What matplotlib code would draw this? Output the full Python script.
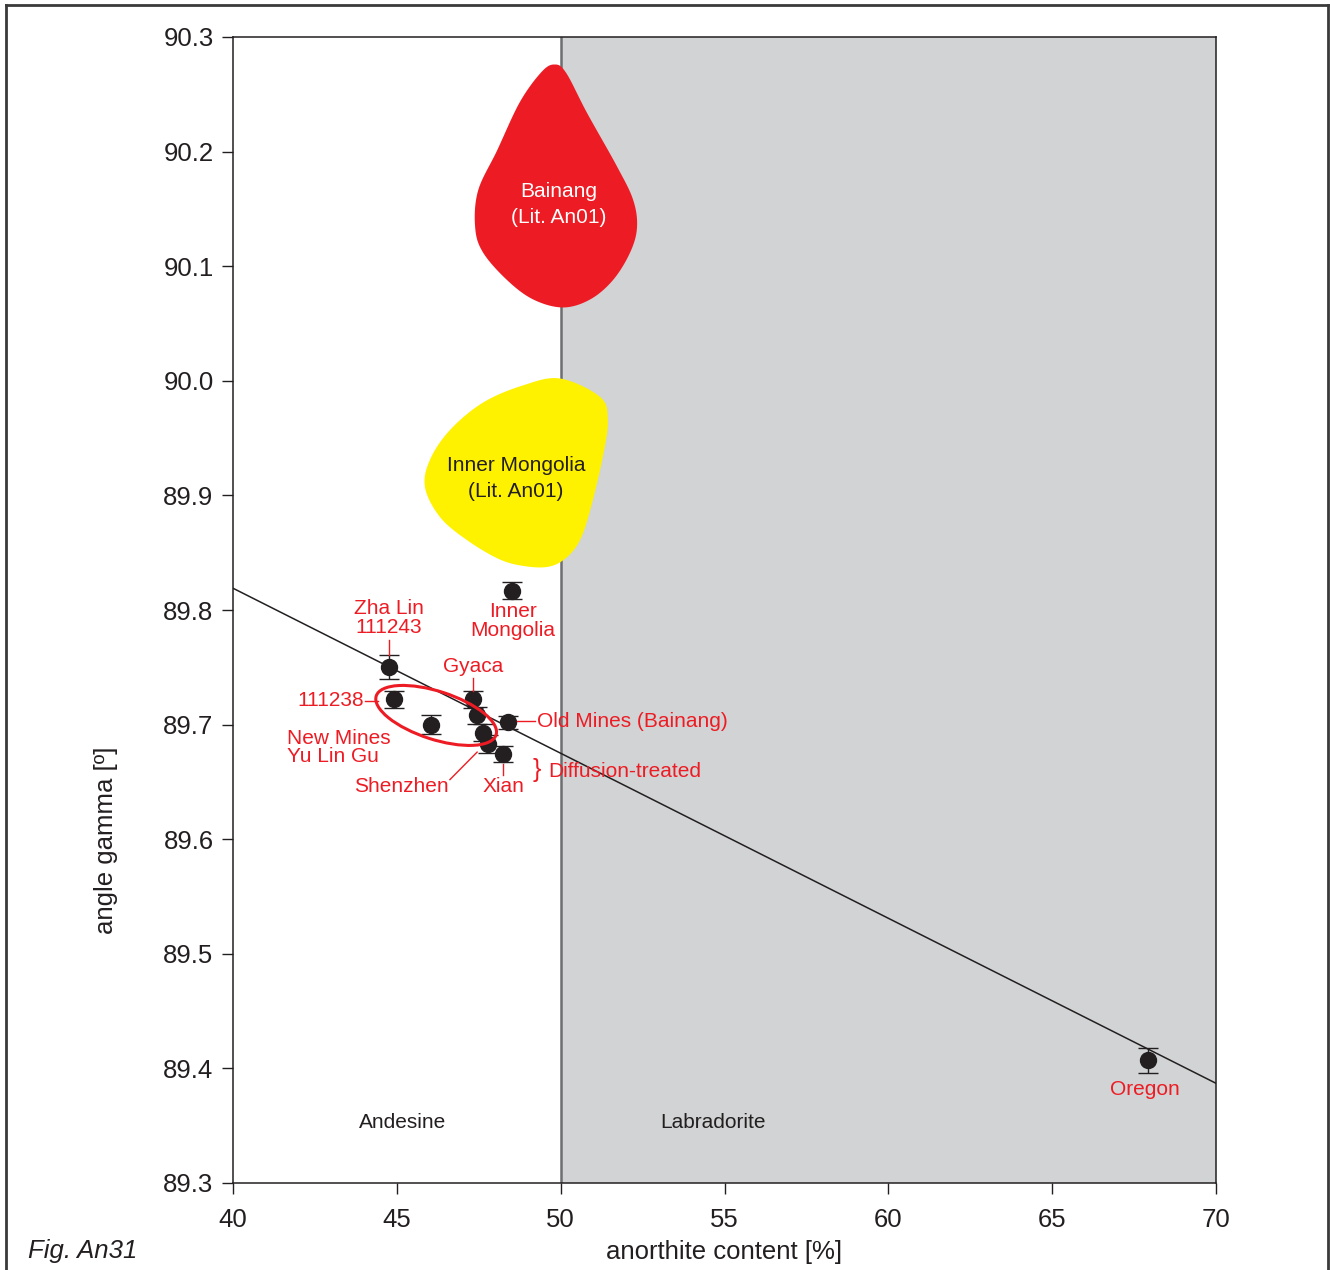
import numpy as np
import matplotlib
matplotlib.use("Agg")
import matplotlib.pyplot as plt
import matplotlib.transforms as mtransforms
from matplotlib.patches import Ellipse, Polygon
from matplotlib.lines import Line2D

plt.rcParams['font.family'] = ['Liberation Sans', 'DejaVu Sans']

RED = '#ED1C24'
DARK = '#231F20'

# measured samples: anorthite content [%], angle gamma [deg], error
sample_x = [48.51, 44.76, 44.91, 46.04, 47.33, 47.44, 47.64, 47.79, 48.23, 48.38, 67.93]
sample_y = [89.817, 89.750, 89.722, 89.700, 89.722, 89.708, 89.693, 89.683, 89.674, 89.702, 89.407]
sample_err = [0.0075, 0.0103, 0.0073, 0.008, 0.0075, 0.0075, 0.0075, 0.0075, 0.007, 0.0055, 0.0107]

# regression line end points
fit_x = [40, 70]
fit_y = [89.819, 89.387]

# literature fields (outline points)
bainang_x = [49.80, 50.16, 50.80, 51.72, 52.21, 52.33, 52.12, 51.60, 50.90, 50.07, 49.16,
             48.36, 47.63, 47.39, 47.48, 48.06, 48.75, 49.40]
bainang_y = [90.276, 90.269, 90.234, 90.187, 90.158, 90.134, 90.112, 90.088, 90.071, 90.064, 90.071,
             90.088, 90.112, 90.134, 90.166, 90.201, 90.243, 90.269]
mongolia_x = [49.98, 51.20, 51.44, 51.29, 50.90, 50.59, 50.19, 49.67, 48.97, 48.15,
              47.14, 46.32, 45.86, 46.01, 46.62, 47.63, 48.85]
mongolia_y = [90.002, 89.986, 89.966, 89.934, 89.887, 89.861, 89.846, 89.838, 89.838, 89.844,
              89.861, 89.881, 89.907, 89.931, 89.957, 89.981, 89.996]

x_ticks = [40, 45, 50, 55, 60, 65, 70]
y_ticks = [89.3, 89.4, 89.5, 89.6, 89.7, 89.8, 89.9, 90.0, 90.1, 90.2, 90.3]


def smooth_closed(xs, ys, n=20):
    # periodic Catmull-Rom through the outline points
    p = np.column_stack([xs, ys])
    k = len(p)
    out = []
    for i in range(k):
        p0, p1, p2, p3 = p[i - 1], p[i], p[(i + 1) % k], p[(i + 2) % k]
        for t in np.linspace(0, 1, n, endpoint=False):
            t2, t3 = t * t, t * t * t
            out.append(0.5 * (2 * p1 + (-p0 + p2) * t + (2 * p0 - 5 * p1 + 4 * p2 - p3) * t2
                              + (-p0 + 3 * p1 - 3 * p2 + p3) * t3))
    return np.array(out)


fig = plt.figure(figsize=(13.3, 12.7), dpi=100)
ax = fig.add_axes([233 / 1330, 1 - 1183 / 1270, 983 / 1330, 1146 / 1270])

ax.axvspan(50, 70, color='#D1D3D4', zorder=0, lw=0)
ax.axvline(50, color='#6D6E71', lw=1.8, zorder=1)

ax.add_patch(Polygon(smooth_closed(bainang_x, bainang_y), closed=True, fc=RED, ec='none', zorder=2))
ax.add_patch(Polygon(smooth_closed(mongolia_x, mongolia_y), closed=True, fc='#FFF200', ec='none', zorder=2))
ax.text(49.95, 90.154, 'Bainang\n(Lit. An01)', color='white', fontsize=15, ha='center', va='center',
        linespacing=1.45, zorder=3)
ax.text(48.64, 89.915, 'Inner Mongolia\n(Lit. An01)', color=DARK, fontsize=15, ha='center', va='center',
        linespacing=1.45, zorder=3)

ax.plot(fit_x, fit_y, color=DARK, lw=1.1, zorder=3)

ax.errorbar(sample_x, sample_y, yerr=sample_err, fmt='o', color=DARK, ms=11.5,
            capsize=7.5, capthick=1, elinewidth=1, zorder=4)

# ellipse around the diffusion-treated group (size in inches)
ell_trans = fig.dpi_scale_trans + mtransforms.ScaledTranslation(46.20, 89.708, ax.transData)
ax.add_patch(Ellipse((0, 0), 1.26, 0.48, angle=-18, fill=False, ec=RED, lw=2.2, transform=ell_trans, zorder=5))

# labels
lab = dict(color=RED, fontsize=15, zorder=6)
ax.text(44.76, 89.793, 'Zha Lin\n111243', ha='center', va='center', linespacing=1.0, **lab)
ax.text(48.55, 89.790, 'Inner\nMongolia', ha='center', va='center', linespacing=1.0, **lab)
ax.text(47.32, 89.751, 'Gyaca', ha='center', va='center', **lab)
ax.text(44.00, 89.721, '111238', ha='right', va='center', **lab)
ax.text(41.65, 89.680, 'New Mines\nYu Lin Gu', ha='left', va='center', linespacing=0.95, **lab)
ax.text(45.13, 89.646, 'Shenzhen', ha='center', va='center', **lab)
ax.text(48.24, 89.646, 'Xian', ha='center', va='center', **lab)
ax.text(49.28, 89.660, '}', ha='center', va='center', color=RED, fontsize=18, zorder=6)
ax.text(49.61, 89.6595, 'Diffusion-treated', ha='left', va='center', **lab)
ax.text(49.28, 89.703, 'Old Mines (Bainang)', ha='left', va='center', **lab)
ax.text(67.83, 89.382, 'Oregon', ha='center', va='center', **lab)

# leader lines
leaders = [([44.76, 44.76], [89.774, 89.761]),
           ([47.33, 47.33], [89.741, 89.729]),
           ([44.03, 44.43], [89.721, 89.721]),
           ([48.67, 49.22], [89.703, 89.703]),
           ([46.62, 47.45], [89.652, 89.676]),
           ([48.24, 48.24], [89.666, 89.656])]
for lx, ly in leaders:
    ax.plot(lx, ly, color=RED, lw=1, zorder=6)

ax.text(45.19, 89.353, 'Andesine', ha='center', va='center', fontsize=15, color=DARK)
ax.text(54.65, 89.353, 'Labradorite', ha='center', va='center', fontsize=15, color=DARK)

ax.set_xlim(40, 70)
ax.set_ylim(89.3, 90.3)
ax.set_xticks(x_ticks)
ax.set_yticks(y_ticks)
ax.set_yticklabels([f'{v:.1f}' for v in y_ticks])
ax.tick_params(direction='out', length=8, width=1, colors=DARK, labelsize=18.5)
ax.tick_params(axis='y', pad=6)
ax.tick_params(axis='x', pad=10)
for s in ax.spines.values():
    s.set_color(DARK)
    s.set_linewidth(1.1)

ax.set_xlabel('anorthite content [%]', fontsize=18.5, color=DARK, labelpad=6)
ax.set_ylabel('angle gamma [º]', fontsize=18.5, color=DARK)
ax.yaxis.set_label_coords(-0.117, 0.299)

fig.text(28 / 1330, 1 - 1251 / 1270, 'Fig. An31', fontsize=18.5, style='italic', color=DARK,
         ha='left', va='center')

# outer frame
for fx, fy in [([6, 6], [1275, 5]), ([6, 1328], [5, 5]), ([1328, 1328], [5, 1275])]:
    fig.add_artist(Line2D(np.array(fx) / 1330, 1 - np.array(fy) / 1270, color='#3A3A3A', lw=2))

fig.savefig('out.png', dpi=100)
